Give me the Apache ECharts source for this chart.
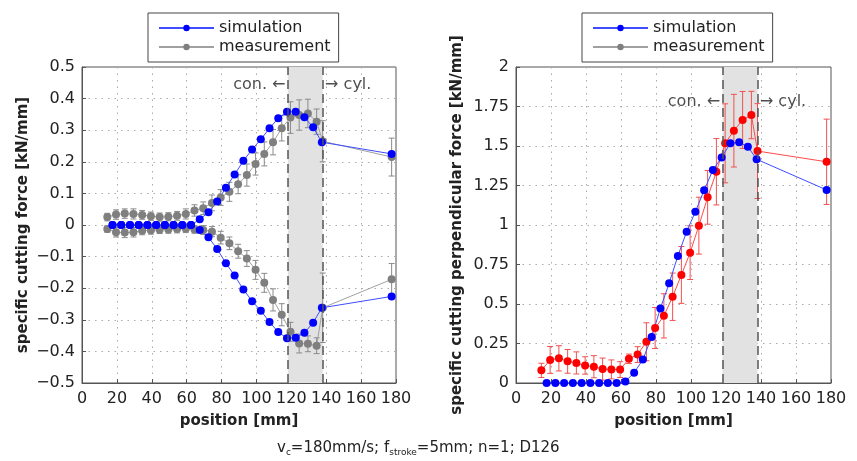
<!DOCTYPE html>
<html>
<head>
<meta charset="utf-8" />
<script src="https://cdn.jsdelivr.net/npm/echarts@6/dist/echarts.min.js"></script>
<style>
  body { margin: 0; background: #fff; }
  #main { width: 857px; height: 461px; }
</style>
</head>
<body>
<div id="main"></div>
<script type="text/javascript">
// positions [mm]
var simX = [17.5, 22.5, 27.5, 32.5, 37.5, 42.5, 47.5, 52.5, 57.5, 62.5, 67.5, 72.5, 77.5, 82.5, 87.5,
            92.5, 97.5, 102.5, 107.5, 112.5, 117.5, 122.5, 127.5, 132.5, 137.5, 177.5];
var measX = [14.5, 19.5, 24.5, 29.5, 34.5, 39.5, 44.5, 49.5, 54.5, 59.5, 64.5, 69.5, 74.5, 79.5, 84.5,
             89.5, 94.5, 99.5, 104.5, 109.5, 114.5, 119.5, 124.5, 129.5, 134.5, 138, 177.5];

// left: specific cutting force [kN/mm]
var simUp = [0, 0, 0, 0, 0, 0, 0, 0, 0, 0, 0.018, 0.04, 0.074, 0.118, 0.16, 0.203, 0.239, 0.271,
             0.306, 0.338, 0.358, 0.358, 0.341, 0.309, 0.262, 0.225];
var simLow = [0, 0, 0, 0, 0, 0, 0, 0, 0, 0, -0.016, -0.039, -0.076, -0.121, -0.16, -0.204, -0.241, -0.271,
              -0.307, -0.339, -0.358, -0.357, -0.341, -0.309, -0.262, -0.226];
var measUp = [0.025, 0.033, 0.036, 0.035, 0.032, 0.028, 0.025, 0.026, 0.029, 0.035, 0.046, 0.053, 0.07,
              0.087, 0.105, 0.129, 0.158, 0.193, 0.225, 0.262, 0.306, 0.34, 0.348, 0.353, 0.327, 0.265, 0.215];
var measUpErr = [0.012, 0.015, 0.015, 0.016, 0.014, 0.013, 0.013, 0.013, 0.014, 0.016, 0.018, 0.02, 0.025,
                 0.025, 0.03, 0.03, 0.035, 0.035, 0.038, 0.04, 0.04, 0.05, 0.048, 0.045, 0.04, 0.065, 0.06];
var measLow = [-0.013, -0.023, -0.024, -0.023, -0.018, -0.017, -0.015, -0.014, -0.013, -0.012, -0.014, -0.016,
               -0.021, -0.04, -0.058, -0.083, -0.106, -0.142, -0.183, -0.237, -0.284, -0.338, -0.375, -0.376,
               -0.382, -0.262, -0.172];
var measLowErr = [0.01, 0.015, 0.016, 0.015, 0.013, 0.012, 0.012, 0.012, 0.012, 0.012, 0.012, 0.014, 0.016,
                  0.02, 0.02, 0.022, 0.025, 0.03, 0.03, 0.035, 0.035, 0.03, 0.03, 0.025, 0.025, 0.11, 0.05];

// right: specific cutting perpendicular force [kN/mm]
var simPerp = [0, 0, 0, 0, 0, 0, 0, 0, 0, 0.01, 0.065, 0.148, 0.291, 0.472, 0.631, 0.804, 0.958, 1.084,
               1.22, 1.348, 1.428, 1.517, 1.523, 1.496, 1.416, 1.222];
var measPerp = [0.08, 0.146, 0.156, 0.137, 0.127, 0.111, 0.103, 0.088, 0.086, 0.085, 0.153, 0.18, 0.261,
                0.348, 0.425, 0.546, 0.684, 0.825, 0.996, 1.175, 1.337, 1.517, 1.597, 1.665, 1.696, 1.468, 1.4];
var measPerpErr = [0.045, 0.085, 0.08, 0.075, 0.07, 0.055, 0.07, 0.07, 0.06, 0.05, 0.03, 0.05, 0.12, 0.13,
                   0.14, 0.15, 0.18, 0.17, 0.18, 0.17, 0.21, 0.25, 0.23, 0.18, 0.15, 0.3, 0.27];

var xTicks = { min: 0, max: 180, interval: 20 };
var zoneStart = 118, zoneEnd = 138;

var FONT = 'DejaVu Sans, Arial, sans-serif';

function pairs(xs, ys) {
  return xs.map(function (x, i) { return [x, ys[i]]; });
}
function errRows(xs, ys, es) {
  return xs.map(function (x, i) { return [x, ys[i] - es[i], ys[i] + es[i]]; });
}
function errRender(params, api) {
  var lo = api.coord([api.value(0), api.value(1)]);
  var hi = api.coord([api.value(0), api.value(2)]);
  var c = api.visual('color');
  var w = 3;
  var st = { stroke: c, lineWidth: 1 };
  return {
    type: 'group',
    children: [
      { type: 'line', shape: { x1: lo[0], y1: lo[1], x2: hi[0], y2: hi[1] }, style: st },
      { type: 'line', shape: { x1: lo[0] - w, y1: lo[1], x2: lo[0] + w, y2: lo[1] }, style: st },
      { type: 'line', shape: { x1: hi[0] - w, y1: hi[1], x2: hi[0] + w, y2: hi[1] }, style: st }
    ]
  };
}
function fmt(v) {
  var r = Math.round(v * 100) / 100;
  return String(r).replace('-', '\u2212');
}

function lineSeries(name, idx, data, markerColor, lineColor) {
  return {
    name: name, type: 'line', xAxisIndex: idx, yAxisIndex: idx, data: data,
    symbol: 'circle', symbolSize: 8, z: 4,
    itemStyle: { color: markerColor },
    lineStyle: { color: lineColor, width: 1 }
  };
}
function errSeries(idx, rows, color) {
  return {
    type: 'custom', xAxisIndex: idx, yAxisIndex: idx, data: rows, renderItem: errRender,
    itemStyle: { color: color }, z: 3, silent: true
  };
}
function bandSeries(idx) {
  return {
    type: 'line', xAxisIndex: idx, yAxisIndex: idx, data: [], z: 1, silent: true,
    markArea: { silent: true, itemStyle: { color: '#e2e2e2' }, data: [[{ xAxis: zoneStart }, { xAxis: zoneEnd }]] },
    markLine: {
      silent: true, symbol: 'none', label: { show: false },
      lineStyle: { color: '#555', type: [9, 5], width: 1.5 },
      data: [{ xAxis: zoneStart }, { xAxis: zoneEnd }]
    }
  };
}
function noteSeries(idx, y) {
  return {
    type: 'scatter', xAxisIndex: idx, yAxisIndex: idx, symbolSize: 1, silent: true, z: 5,
    itemStyle: { color: 'rgba(0,0,0,0)' },
    label: { show: true, fontSize: 16, color: '#222', fontFamily: FONT, distance: 1 },
    data: [
      { value: [zoneStart - 0.5, y], label: { position: 'left', formatter: 'con. \u2190' } },
      { value: [zoneEnd + 0.5, y], label: { position: 'right', formatter: '\u2192 cyl.' } }
    ]
  };
}

function xAxisFor(idx) {
  return {
    type: 'value', gridIndex: idx, min: xTicks.min, max: xTicks.max, interval: xTicks.interval,
    name: 'position [mm]', nameLocation: 'middle', nameGap: 31,
    nameTextStyle: { fontSize: 15, fontWeight: 'bold', color: '#222', fontFamily: FONT },
    axisLine: { onZero: false, lineStyle: { color: '#555' } },
    axisTick: { inside: true, length: 4, lineStyle: { color: '#555' } },
    axisLabel: { fontSize: 16, color: '#222', margin: 8, fontFamily: FONT },
    splitLine: { show: true, lineStyle: { color: '#aaa', type: [1.5, 5] } }
  };
}
function yAxisFor(idx, name, min, max, interval) {
  return {
    type: 'value', gridIndex: idx, min: min, max: max, interval: interval,
    name: name, nameLocation: 'middle', nameGap: 51,
    nameTextStyle: { fontSize: 15, fontWeight: 'bold', color: '#222', fontFamily: FONT },
    axisLine: { show: true, onZero: false, lineStyle: { color: '#555' } },
    axisTick: { show: true, inside: true, length: 4, lineStyle: { color: '#555' } },
    axisLabel: { fontSize: 16, color: '#222', margin: 7, fontFamily: FONT, formatter: fmt },
    splitLine: { show: true, lineStyle: { color: '#aaa', type: [1.5, 5] } }
  };
}
function legendAt(left, items) {
  return {
    data: items, orient: 'vertical', left: left, top: 13,
    itemWidth: 55, itemHeight: 8, itemGap: 3, padding: [7, 8, 7, 10],
    borderColor: '#444', borderWidth: 1, backgroundColor: '#fff',
    textStyle: { fontSize: 16, color: '#222', fontFamily: FONT, lineHeight: 16 },
    selectedMode: false
  };
}

var myChart = echarts.init(document.getElementById('main'));

var option = {
  animation: false,
  textStyle: { fontFamily: FONT },
  title: {
    text: 'v{sub|c}=180mm/s; f{sub|stroke}=5mm; n=1; D126',
    left: 272, top: 434,
    textStyle: {
      fontSize: 15, fontWeight: 'normal', color: '#222', fontFamily: FONT,
      rich: { sub: { fontSize: 9, color: '#222', fontFamily: FONT, padding: [9, 0, 0, 0] } }
    }
  },
  legend: [
    legendAt(148, ['simulation', 'measurement']),
    legendAt(582, ['simulation', { name: 'measurement', itemStyle: { color: '#7f7f7f' }, lineStyle: { color: '#a0a0a0' } }])
  ],
  grid: [
    { left: 82, top: 67, width: 314, height: 316, show: true, borderColor: '#555', borderWidth: 1 },
    { left: 516, top: 67, width: 315, height: 316, show: true, borderColor: '#555', borderWidth: 1 }
  ],
  xAxis: [xAxisFor(0), xAxisFor(1)],
  yAxis: [
    yAxisFor(0, 'specific cutting force [kN/mm]', -0.5, 0.5, 0.1),
    yAxisFor(1, 'specific cutting perpendicular force [kN/mm]', 0, 2, 0.25)
  ],
  series: [
    bandSeries(0),
    bandSeries(1),
    errSeries(0, errRows(measX, measUp, measUpErr), '#8a8a8a'),
    errSeries(0, errRows(measX, measLow, measLowErr), '#8a8a8a'),
    errSeries(1, errRows(measX, measPerp, measPerpErr), '#f25050'),
    lineSeries('measurement', 0, pairs(measX, measUp), '#7f7f7f', '#a0a0a0'),
    lineSeries('measurement', 0, pairs(measX, measLow), '#7f7f7f', '#a0a0a0'),
    lineSeries('simulation', 0, pairs(simX, simUp), '#0000ff', '#3f4cff'),
    lineSeries('simulation', 0, pairs(simX, simLow), '#0000ff', '#3f4cff'),
    lineSeries('measurement', 1, pairs(measX, measPerp), '#ff0000', '#ff4a4a'),
    lineSeries('simulation', 1, pairs(simX, simPerp), '#0000ff', '#3f4cff'),
    noteSeries(0, 0.443),
    noteSeries(1, 1.78)
  ]
};

myChart.setOption(option);
</script>
</body>
</html>
